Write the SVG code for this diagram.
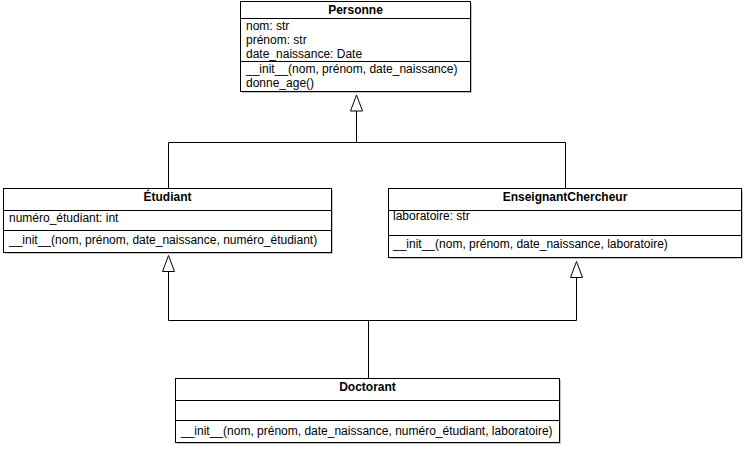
<svg xmlns="http://www.w3.org/2000/svg" width="745" height="450" viewBox="0 0 745 450">
<defs>
<path id="tri" d="M0,0 L6,16 L-6,16 Z"/>
</defs>
<style>
.box{fill:#fff;stroke:#000;stroke-width:1}
.sh{fill:#c4c4c4;stroke:none}
.div{stroke:#000;stroke-width:1}
.t{font-family:"Liberation Sans",Arial,sans-serif;font-size:12px;fill:#000}
.h{font-weight:bold;text-anchor:middle}
.c{fill:none;stroke:#000;stroke-width:1}
.arr{fill:#fff;stroke:#000;stroke-width:1}
</style>
<rect width="745" height="450" fill="#fff"/>
<g id="connectors">
<path class="c" d="M356.5,110.5 V142.5" />
<path class="c" d="M168.5,188.5 V142.5 H565.5 V188.5" />
<path class="c" d="M168.5,271.5 V320.5 H576.5 V277.5" />
<path class="c" d="M368.5,320.5 V378.5" />
<use href="#tri" class="arr" x="356.5" y="95"/>
<use href="#tri" class="arr" x="168.5" y="255.5"/>
<use href="#tri" class="arr" x="576.5" y="261.5"/>
</g>
<g id="Personne">
<rect class="sh" x="242" y="3" width="230" height="90"/>
<rect class="box" x="240.5" y="1.5" width="230" height="90"/>
<line class="div" x1="240.5" y1="18.5" x2="470.5" y2="18.5"/>
<line class="div" x1="240.5" y1="61.5" x2="470.5" y2="61.5"/>
<text class="t h" x="355.5" y="14">Personne</text>
<text class="t" x="246" y="30">nom: str</text>
<text class="t" x="246" y="44">prénom: str</text>
<text class="t" x="246" y="58">date_naissance: Date</text>
<text class="t" x="246" y="73">__init__(nom, prénom, date_naissance)</text>
<text class="t" x="246" y="87">donne_age()</text>
</g>
<g id="Etudiant">
<rect class="sh" x="5" y="190" width="328" height="64"/>
<rect class="box" x="3.5" y="188.5" width="328" height="64"/>
<line class="div" x1="3.5" y1="210.5" x2="331.5" y2="210.5"/>
<line class="div" x1="3.5" y1="230.5" x2="331.5" y2="230.5"/>
<text class="t h" x="167.5" y="201">Étudiant</text>
<text class="t" x="9" y="222">numéro_étudiant: int</text>
<text class="t" x="9" y="244">__init__(nom, prénom, date_naissance, numéro_étudiant)</text>
</g>
<g id="EnseignantChercheur">
<rect class="sh" x="390" y="190" width="353" height="69"/>
<rect class="box" x="388.5" y="188.5" width="353" height="69"/>
<line class="div" x1="388.5" y1="210.5" x2="741.5" y2="210.5"/>
<line class="div" x1="388.5" y1="235.5" x2="741.5" y2="235.5"/>
<text class="t h" x="565" y="201">EnseignantChercheur</text>
<text class="t" x="393" y="220">laboratoire: str</text>
<text class="t" x="393" y="248">__init__(nom, prénom, date_naissance, laboratoire)</text>
</g>
<g id="Doctorant">
<rect class="sh" x="177" y="380" width="384" height="64"/>
<rect class="box" x="175.5" y="378.5" width="384" height="64"/>
<line class="div" x1="175.5" y1="400.5" x2="559.5" y2="400.5"/>
<line class="div" x1="175.5" y1="420.5" x2="559.5" y2="420.5"/>
<text class="t h" x="367.5" y="391">Doctorant</text>
<text class="t" x="181" y="435">__init__(nom, prénom, date_naissance, numéro_étudiant, laboratoire)</text>
</g>
</svg>
